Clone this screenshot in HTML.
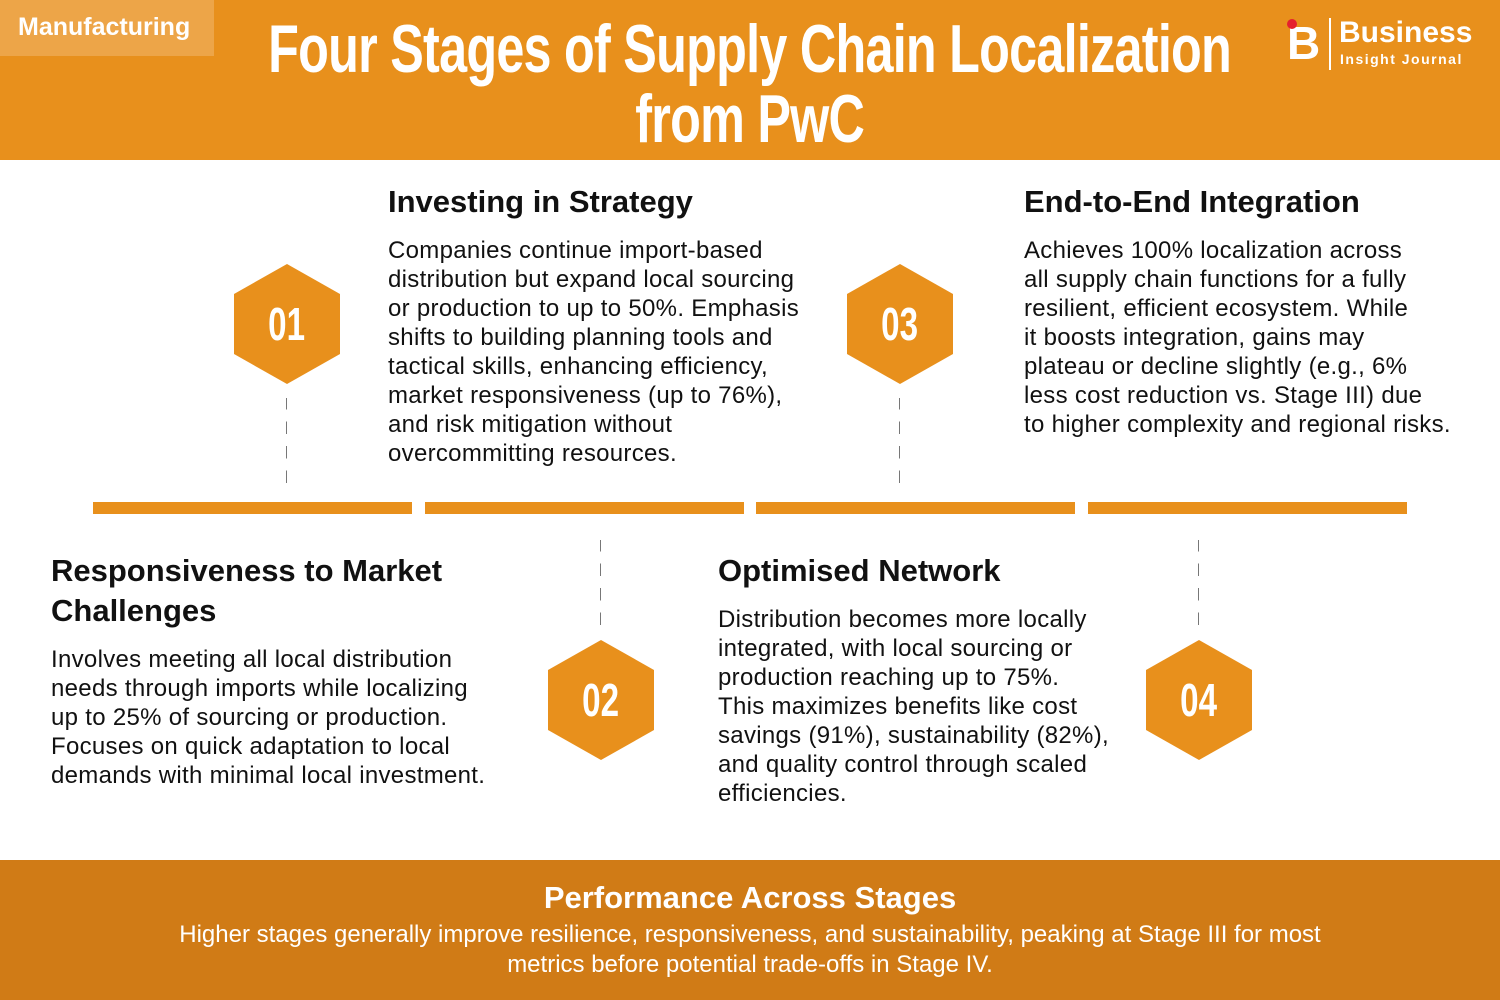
<!DOCTYPE html>
<html><head><meta charset="utf-8"><style>
*{margin:0;padding:0;box-sizing:border-box}
body{width:1500px;height:1000px;position:relative;background:#fff;font-family:"Liberation Sans",sans-serif;color:#111;overflow:hidden}
.hdr{position:absolute;left:0;top:0;width:1500px;height:160px;background:#e8901c}
.tag{position:absolute;left:0;top:0;width:214px;height:56px;background:#eda548;color:#fff;font-weight:bold;font-size:25px;padding:13px 0 0 18px}
.tl{position:absolute;left:0;width:1500px;text-align:center;color:#fff;font-weight:bold;font-size:68px;line-height:70px;white-space:nowrap}
.tl span{display:inline-block;transform:scaleX(0.74);letter-spacing:-1px}
.logo{position:absolute;left:1287px;top:18px;color:#fff}
.abs{position:absolute}
h2{position:absolute;font-size:31px;font-weight:bold;line-height:40px;white-space:nowrap}
p.b{position:absolute;font-size:24px;line-height:29px;white-space:nowrap;letter-spacing:0.3px}
.hex{position:absolute;width:106px;height:120px;background:#e8901c;clip-path:polygon(50% 0,100% 25%,100% 75%,50% 100%,0 75%,0 25%);color:#fff;font-weight:bold;font-size:46px;display:flex;align-items:center;justify-content:center}
.hex span{display:inline-block;transform:scaleX(0.72)}
.bar{position:absolute;top:502px;height:12px;background:#e8901c;width:319px}
.dash{position:absolute;width:0;border-left:1px dashed #777;border-image:repeating-linear-gradient(#777 0 12px,transparent 12px 24px) 1}
.ftr{position:absolute;left:0;top:860px;width:1500px;height:140px;background:#d07b16;color:#fff;text-align:center}
</style></head><body>
<div class="hdr"></div>
<div class="tag">Manufacturing</div>
<div class="tl" style="top:14px"><span>Four Stages of Supply Chain Localization</span></div>
<div class="tl" style="top:84px"><span>from PwC</span></div>
<div class="logo">
<div class="abs" style="left:0;top:2px;font-size:46px;font-weight:bold;line-height:46px">B</div>
<div class="abs" style="left:0;top:1px;width:10px;height:10px;border-radius:50%;background:#e5202e"></div>
<div class="abs" style="left:42px;top:0;width:2px;height:52px;background:#fff"></div>
<div class="abs" style="left:52px;top:-2px;font-size:30px;font-weight:bold;line-height:34px;white-space:nowrap">Business</div>
<div class="abs" style="left:53px;top:33px;font-size:14px;font-weight:bold;letter-spacing:1.5px;white-space:nowrap">Insight Journal</div>
</div>

<h2 style="left:388px;top:182px">Investing in Strategy</h2>
<p class="b" style="left:388px;top:236px">Companies continue import-based<br>distribution but expand local sourcing<br>or production to up to 50%. Emphasis<br>shifts to building planning tools and<br>tactical skills, enhancing efficiency,<br>market responsiveness (up to 76%),<br>and risk mitigation without<br>overcommitting resources.</p>

<h2 style="left:1024px;top:182px">End-to-End Integration</h2>
<p class="b" style="left:1024px;top:236px">Achieves 100% localization across<br>all supply chain functions for a fully<br>resilient, efficient ecosystem. While<br>it boosts integration, gains may<br>plateau or decline slightly (e.g., 6%<br>less cost reduction vs. Stage III) due<br>to higher complexity and regional risks.</p>

<h2 style="left:51px;top:551px">Responsiveness to Market<br>Challenges</h2>
<p class="b" style="left:51px;top:645px">Involves meeting all local distribution<br>needs through imports while localizing<br>up to 25% of sourcing or production.<br>Focuses on quick adaptation to local<br>demands with minimal local investment.</p>

<h2 style="left:718px;top:551px">Optimised Network</h2>
<p class="b" style="left:718px;top:605px">Distribution becomes more locally<br>integrated, with local sourcing or<br>production reaching up to 75%.<br>This maximizes benefits like cost<br>savings (91%), sustainability (82%),<br>and quality control through scaled<br>efficiencies.</p>

<div class="hex" style="left:234px;top:264px"><span>01</span></div>
<div class="hex" style="left:847px;top:264px"><span>03</span></div>
<div class="hex" style="left:548px;top:640px"><span>02</span></div>
<div class="hex" style="left:1146px;top:640px"><span>04</span></div>

<div class="dash" style="left:286px;top:398px;height:88px"></div>
<div class="dash" style="left:899px;top:398px;height:88px"></div>
<div class="dash" style="left:600px;top:540px;height:88px"></div>
<div class="dash" style="left:1198px;top:540px;height:88px"></div>

<div class="bar" style="left:93px"></div>
<div class="bar" style="left:425px"></div>
<div class="bar" style="left:756px"></div>
<div class="bar" style="left:1088px"></div>

<div class="ftr">
<div style="font-size:31px;font-weight:bold;margin-top:19px;line-height:38px">Performance Across Stages</div>
<div style="font-size:24px;line-height:30px;margin-top:3px">Higher stages generally improve resilience, responsiveness, and sustainability, peaking at Stage III for most<br>metrics before potential trade-offs in Stage IV.</div>
</div>
</body></html>
